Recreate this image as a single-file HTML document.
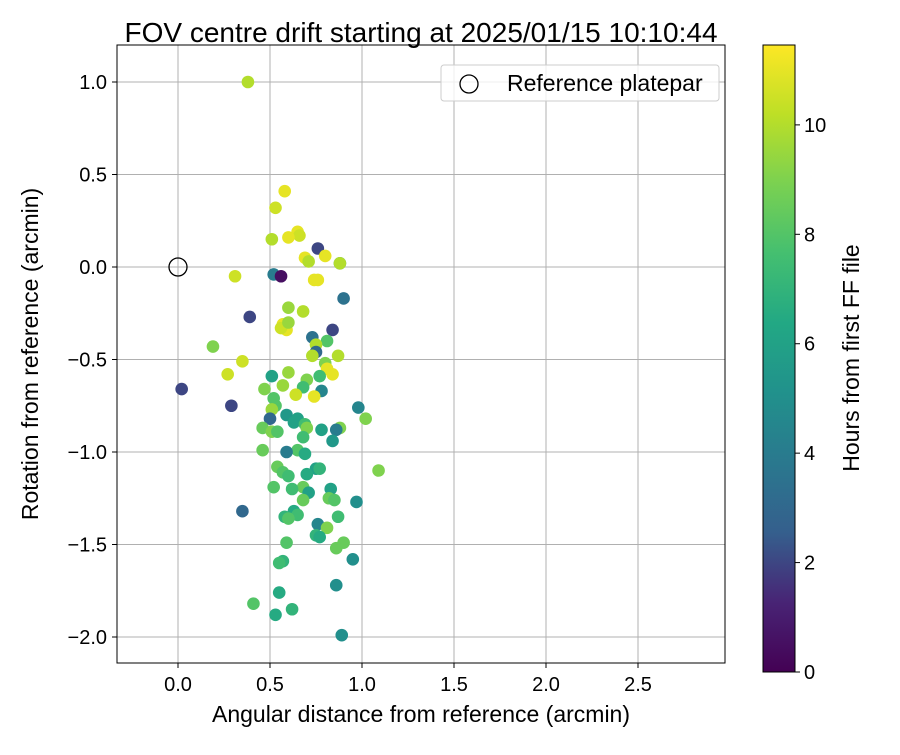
<!DOCTYPE html>
<html><head><meta charset="utf-8"><style>
body{margin:0;background:#fff}
svg text{font-family:"Liberation Sans","DejaVu Sans",sans-serif;fill:#000}
</style></head><body>
<svg id="chart" width="900" height="750" viewBox="0 0 900 750" xmlns="http://www.w3.org/2000/svg">
<defs>
<linearGradient id="vir" x1="0" y1="1" x2="0" y2="0">
<stop offset="0" stop-color="#440154"/><stop offset="0.111" stop-color="#482475"/>
<stop offset="0.222" stop-color="#355f8d"/><stop offset="0.333" stop-color="#2a788e"/>
<stop offset="0.444" stop-color="#21918c"/><stop offset="0.556" stop-color="#22a884"/>
<stop offset="0.667" stop-color="#44bf70"/><stop offset="0.778" stop-color="#7ad151"/>
<stop offset="0.889" stop-color="#bddf26"/><stop offset="1" stop-color="#fde725"/>
</linearGradient>
<clipPath id="clip"><rect x="117" y="45" width="608" height="618"/></clipPath>
</defs>
<rect width="900" height="750" fill="#fff"/>
<g id="grid"></g>
<g id="points" clip-path="url(#clip)"></g>
<circle id="refpt" r="9" fill="none" stroke="#000" stroke-width="1.3"/>
<rect x="117" y="45" width="608" height="618" fill="none" stroke="#000" stroke-width="1"/>
<g id="ticks"></g>
<text x="421" y="42" font-size="28" text-anchor="middle">FOV centre drift starting at 2025/01/15 10:10:44</text>
<text x="421" y="722" font-size="23" text-anchor="middle">Angular distance from reference (arcmin)</text>
<text transform="translate(38,354) rotate(-90)" font-size="23" text-anchor="middle">Rotation from reference (arcmin)</text>
<g>
<rect x="441" y="65" width="278" height="36" rx="3" fill="#fff" fill-opacity="0.8" stroke="#ccc"/>
<circle cx="469" cy="84" r="9" fill="none" stroke="#000" stroke-width="1.3"/>
<text x="507" y="91" font-size="23">Reference platepar</text>
</g>
<rect x="763" y="45" width="32" height="627" fill="url(#vir)" stroke="#000" stroke-width="1"/>
<g id="cbticks"></g>
<text transform="translate(859,358) rotate(-90)" font-size="23" text-anchor="middle">Hours from first FF file</text>
</svg>
<script>
const xs=[0.38,0.58,0.53,0.51,0.65,0.66,0.60,0.69,0.71,0.76,0.80,0.88,0.88,0.52,0.56,0.31,0.74,0.76,0.90,0.60,0.68,0.39,0.57,0.59,0.56,0.60,0.84,0.73,0.81,0.75,0.19,0.75,0.73,0.87,0.80,0.35,0.81,0.84,0.27,0.60,0.51,0.77,0.70,0.57,0.68,0.78,0.02,0.47,0.64,0.74,0.52,0.29,0.53,0.51,0.98,0.59,0.65,0.50,1.02,0.63,0.69,0.46,0.88,0.70,0.78,0.51,0.54,0.86,0.68,0.84,0.46,0.65,0.59,0.69,1.09,0.75,0.77,0.54,0.57,0.70,0.60,0.68,0.52,0.83,0.62,0.71,0.97,0.68,0.82,0.85,0.35,0.63,0.65,0.58,0.87,0.60,0.76,0.81,0.75,0.77,0.90,0.59,0.86,0.95,0.57,0.55,0.55,0.86,0.41,0.62,0.53,0.89];
const ys=[1.00,0.41,0.32,0.15,0.19,0.17,0.16,0.05,0.03,0.10,0.06,0.02,0.02,-0.04,-0.05,-0.05,-0.07,-0.07,-0.17,-0.22,-0.24,-0.27,-0.31,-0.34,-0.33,-0.30,-0.34,-0.38,-0.40,-0.42,-0.43,-0.46,-0.48,-0.48,-0.52,-0.51,-0.55,-0.58,-0.58,-0.57,-0.59,-0.59,-0.61,-0.64,-0.65,-0.67,-0.66,-0.66,-0.69,-0.70,-0.71,-0.75,-0.75,-0.77,-0.76,-0.80,-0.82,-0.82,-0.82,-0.84,-0.85,-0.87,-0.87,-0.87,-0.88,-0.89,-0.89,-0.88,-0.92,-0.94,-0.99,-0.99,-1.00,-1.01,-1.10,-1.09,-1.09,-1.08,-1.11,-1.12,-1.13,-1.19,-1.19,-1.20,-1.20,-1.22,-1.27,-1.26,-1.25,-1.26,-1.32,-1.32,-1.34,-1.35,-1.35,-1.36,-1.39,-1.41,-1.45,-1.46,-1.49,-1.49,-1.52,-1.58,-1.59,-1.60,-1.76,-1.72,-1.82,-1.85,-1.88,-1.99];
const hours=[10,11,10.5,10,11,10.5,11,11,10,2,11,6,10,4,0.5,10.5,11,11,3.5,9.5,10,2,11,11,10.5,9.5,2,3.5,8,10,9,3,10,10,9,10.5,11,11,10.5,9.5,6,7.5,9,9.5,7.5,4.5,2,9,10.5,11,8,2,8,9.5,4.5,5.5,6,3,9,6,7.5,8.5,9,9,6,9,8,4,7.5,5.5,8.5,8,4,6.5,9,6,7,8.5,8,6.5,7.5,8.5,8,6,7.5,6,5,8.5,8.5,8,3,6.5,7.5,7,7.5,8,4.5,9,7,6.5,8.5,8,8.5,5,7,7.5,6.5,5,8,7,6.5,5];
const xTicks=[0,0.5,1,1.5,2,2.5];
const xTickLabels=["0.0","0.5","1.0","1.5","2.0","2.5"];
const yTicks=[1,0.5,0,-0.5,-1,-1.5,-2];
const yTickLabels=["1.0","0.5","0.0","\u22120.5","\u22121.0","\u22121.5","\u22122.0"];
const cbTicks=[0,2,4,6,8,10];
const cbTickLabels=["0","2","4","6","8","10"];
const X=v=>178+v*184, Y=v=>267-v*185, C=v=>672-v*(627/11.46);
const vir=[[68,1,84],[72,36,117],[53,95,141],[42,120,142],[33,145,140],[34,168,132],[68,191,112],[122,209,81],[189,223,38],[253,231,37]];
function col(h){let t=Math.max(0,Math.min(1,h/11.46))*(vir.length-1);let i=Math.min(vir.length-2,Math.floor(t)),f=t-i;
const c=vir[i].map((a,k)=>Math.round(a+(vir[i+1][k]-a)*f));return `rgb(${c})`;}
const ns="http://www.w3.org/2000/svg";
function mk(t,a,p){const e=document.createElementNS(ns,t);for(const k in a)e.setAttribute(k,a[k]);p.appendChild(e);return e;}
const g=document.getElementById('grid'),tk=document.getElementById('ticks'),pts=document.getElementById('points'),cb=document.getElementById('cbticks');
xTicks.forEach((v,i)=>{const l=mk('line',{x1:X(v),x2:X(v),y1:45,y2:663,stroke:'#b0b0b0','stroke-width':1},g);

const t=mk('line',{x1:X(v),x2:X(v),y1:663,y2:668,stroke:'#000'},tk);

const tx=mk('text',{x:X(v),y:691,'font-size':20,'text-anchor':'middle'},tk);tx.textContent=xTickLabels[i];
});
yTicks.forEach((v,i)=>{const l=mk('line',{x1:117,x2:725,y1:Y(v),y2:Y(v),stroke:'#b0b0b0','stroke-width':1},g);

const t=mk('line',{x1:112,x2:117,y1:Y(v),y2:Y(v),stroke:'#000'},tk);

const tx=mk('text',{x:107,y:Y(v)+7,'font-size':20,'text-anchor':'end'},tk);tx.textContent=yTickLabels[i];
});
xs.forEach((v,i)=>{const c=mk('circle',{cx:X(v),cy:Y(ys[i]),r:6.3,fill:col(hours[i])},pts);
});
const r=document.getElementById('refpt');r.setAttribute('cx',X(0));r.setAttribute('cy',Y(0));
cbTicks.forEach((v,i)=>{const t=mk('line',{x1:795,x2:800,y1:C(v),y2:C(v),stroke:'#000'},cb);

const tx=mk('text',{x:804,y:C(v)+7,'font-size':20},cb);tx.textContent=cbTickLabels[i];
});
</script>
</body></html>
